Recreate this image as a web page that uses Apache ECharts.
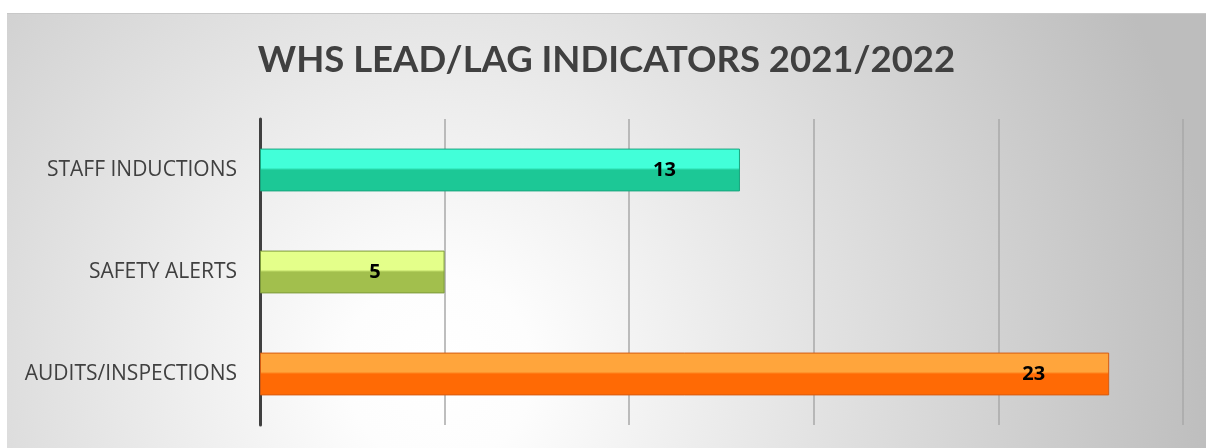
<!DOCTYPE html>
<html>
<head>
<meta charset="utf-8">
<script src="https://cdn.jsdelivr.net/npm/echarts@6/dist/echarts.min.js"></script>
<style>
  html, body { margin: 0; padding: 0; background: #fff; }
  #whsChart { position: absolute; left: 7px; top: 13px; width: 1199px; height: 435px; border-top: 1px solid #c8c8c8; box-sizing: border-box; }
</style>
</head>
<body>
<div id="whsChart"></div>
<script>
// 数据
var categories = ['AUDITS/INSPECTIONS', 'SAFETY ALERTS', 'STAFF INDUCTIONS']
var counts = [23, 5, 13]
var xTicks = [0, 5, 10, 15, 20, 25]

// bevel-ish colours: [top, bottom, border]
var barColors = [
  ['#ffa53c', '#ff6a05', '#d65c12'],
  ['#e4ff8a', '#a2bf4d', '#7d9a3c'],
  ['#42ffd9', '#1cc896', '#19a57e']
]

var chart = echarts.init(document.getElementById('whsChart'))

var barData = counts.map(function (v, i) {
  var c = barColors[i]
  return {
    value: v,
    itemStyle: {
      color: new echarts.graphic.LinearGradient(0, 0, 0, 1, [
        { offset: 0, color: c[0] },
        { offset: 0.45, color: c[0] },
        { offset: 0.5, color: c[1] },
        { offset: 1, color: c[1] }
      ]),
      borderColor: c[2],
      borderWidth: 1
    }
  }
})

var options = {
  backgroundColor: new echarts.graphic.RadialGradient(0.36, 0.82, 1.8, [
    { offset: 0, color: '#ffffff' },
    { offset: 0.12, color: '#fdfdfd' },
    { offset: 1, color: '#bdbdbd' }
  ]),
  title: {
    text: 'WHS LEAD/LAG INDICATORS 2021/2022',
    left: 'center',
    top: 23,
    textStyle: {
      fontFamily: 'Lato',
      fontWeight: 'bold',
      fontSize: 36.5,
      color: '#404040'
    }
  },
  grid: {
    left: 253,
    right: 23,
    top: 105,
    bottom: 23,
    containLabel: false
  },
  xAxis: {
    type: 'value',
    min: xTicks[0],
    max: xTicks[xTicks.length - 1],
    interval: xTicks[1] - xTicks[0],
    axisLine: { show: false },
    axisTick: { show: false },
    axisLabel: { show: false },
    splitLine: {
      lineStyle: { color: '#a8a8a8', width: 1.5 }
    }
  },
  yAxis: {
    type: 'category',
    data: categories,
    axisLine: {
      lineStyle: { color: '#404040', width: 3 }
    },
    axisTick: { show: false },
    axisLabel: {
      margin: 23,
      fontFamily: 'Open Sans',
      fontSize: 21,
      color: '#404040'
    }
  },
  series: [{
    name: 'WHS',
    type: 'bar',
    barWidth: '42%',
    data: barData,
    label: {
      show: true,
      position: 'insideRight',
      distance: 64,
      fontFamily: 'Open Sans',
      fontWeight: 'bold',
      fontSize: 20,
      color: '#000'
    }
  }]
}

chart.clear()
chart.setOption(options)
window.addEventListener('resize', function () {
  chart.resize()
})
</script>
</body>
</html>
